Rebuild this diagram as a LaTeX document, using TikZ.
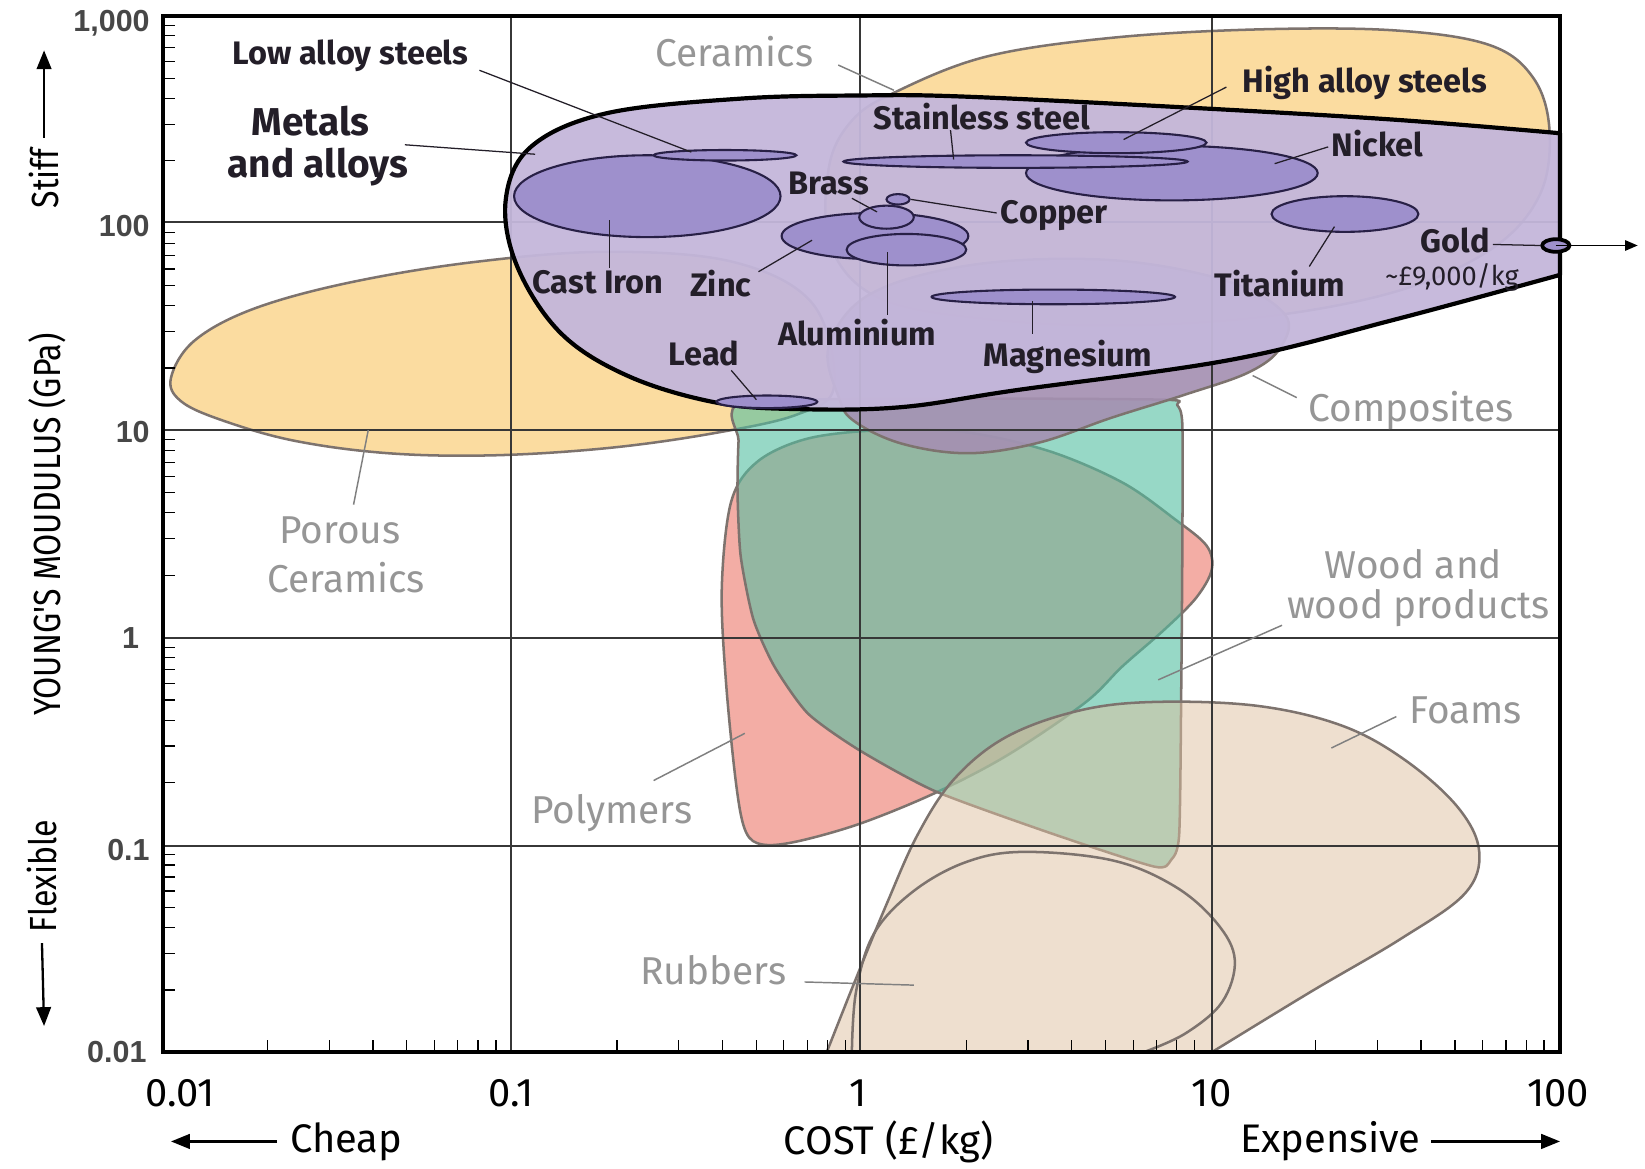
\documentclass[tikz,border=0pt]{standalone}
\usepackage{fontspec}
\setmainfont{Fira Sans}
\newfontfamily\condfont{Fira Sans}[FakeStretch=0.85]
\newfontfamily\arialfont{Liberation Sans}
\usetikzlibrary{arrows.meta}
\definecolor{orangefill}{RGB}{251,220,160}
\definecolor{shapeedge}{RGB}{125,115,110}
\definecolor{metalfill}{RGB}{196,183,219}
\definecolor{elfill}{RGB}{158,144,204}
\definecolor{eldraw}{RGB}{40,32,70}
\definecolor{compfill}{RGB}{165,145,178}
\definecolor{polyfill}{RGB}{243,173,165}
\definecolor{woodfill}{RGB}{83,190,160}
\definecolor{foamfill}{RGB}{223,193,161}
\definecolor{gridcol}{RGB}{55,55,55}
\definecolor{greytext}{RGB}{150,150,150}
\definecolor{darktext}{RGB}{35,30,40}
\tikzset{
  region/.style={draw=shapeedge, line width=1.2pt, line join=round},
  gridln/.style={draw=gridcol, line width=0.9pt},
  frameln/.style={draw=black, line width=1.8pt},
  tickln/.style={draw=black, line width=0.6pt},
  elem/.style={fill=elfill, draw=eldraw, line width=1pt},
  dlbl/.style={font=\fontsize{15.5}{18}\selectfont\bfseries, text=darktext, inner sep=0pt},
  biglbl/.style={font=\fontsize{18.5}{22}\selectfont\bfseries, text=darktext, inner sep=0pt},
  glbl/.style={font=\fontsize{18.5}{22}\selectfont, text=greytext, inner sep=0pt},
  pricelbl/.style={font=\fontsize{13}{15}\selectfont, text=darktext, inner sep=0pt},
  dlead/.style={draw=darktext, line width=0.6pt},
  glead/.style={draw=greytext!85!black, line width=0.7pt},
  ylbl/.style={font=\arialfont\bfseries\fontsize{14.5}{16}\selectfont, text=black!72, inner sep=0pt, anchor=east},
  xlbl/.style={font=\fontsize{19}{22}\selectfont, text=black, inner sep=0pt},
  axlbl/.style={font=\fontsize{19}{22}\selectfont, text=black, inner sep=0pt},
  rotlbl/.style={font=\condfont\fontsize{18}{20}\selectfont, text=black, inner sep=0pt, rotate=90},
  axarrow/.style={draw=black, line width=1.1pt, -{Triangle[length=9pt,width=7pt]}},
}
\begin{document}
\begin{tikzpicture}[x=0.5pt,y=-0.5pt]
\useasboundingbox (0,0) rectangle (1568,1114);
\fill[white] (0,0) rectangle (1568,1114);

% Porous ceramics
\draw[region, fill=orangefill] plot[smooth cycle, tension=0.6] coordinates {
 (163,360) (185,325) (240,295) (330,270) (450,250) (580,240) (700,250) (775,290)
 (795,368) (760,395) (680,413) (580,427) (470,434) (370,432) (280,420) (210,400) (172,382)};
% Ceramics
\draw[region, fill=orangefill] plot[smooth cycle, tension=0.6] coordinates {
 (853,88) (940,54) (1060,36) (1200,28) (1330,29) (1420,43) (1462,75) (1477,125) (1468,185)
 (1425,235) (1340,275) (1220,300) (1080,310) (950,305) (840,285) (792,235) (790,160) (812,115)};
% Polymers
\draw[region, fill=polyfill] plot[smooth cycle, tension=0.55] coordinates {
 (697,478) (722,440) (770,418) (840,410) (920,412) (1000,430) (1070,460) (1120,495) (1150,520)
 (1155,543) (1140,570) (1110,600) (1070,635) (1034,670) (960,720) (891,756) (820,785) (760,802)
 (727,805) (711,793) (702,750) (692,650) (688,560)};
% Wood
\draw[region, fill=woodfill, fill opacity=0.6] plot[smooth cycle, tension=0.4] coordinates {
 (708,384) (900,380) (1110,381) (1122,386) (1127,405) (1127,520) (1126,650) (1124,795) (1116,820) (1100,826)
 (1001,794) (891,754) (819,715) (770,680) (738,635) (718,590) (706,530) (703,470) (704,420)};
% Composites
\draw[region, fill=compfill, fill opacity=0.92] plot[smooth cycle, tension=0.6] coordinates {
 (800,380) (790,330) (830,280) (930,252) (1060,248) (1170,268) (1225,300) (1220,332)
 (1190,355) (1130,376) (1060,398) (990,422) (923,432) (860,423) (815,402)};
% Foams
\draw[region, fill=foamfill, fill opacity=0.5] plot[smooth, tension=0.6] coordinates {
 (788,1003) (815,935) (845,862) (875,795) (910,742) (960,702) (1030,677) (1103,669) (1200,673)
 (1280,692) (1340,725) (1390,770) (1410,812) (1396,852) (1335,895) (1250,945) (1155,1003)} -- cycle;
% Rubbers
\draw[region] plot[smooth, tension=0.6] coordinates {
 (812,1003) (816,945) (833,890) (870,850) (920,822) (975,812) (1060,820) (1120,845)
 (1160,880) (1177,915) (1165,955) (1130,985) (1090,1003)};

% grid
\foreach \gx in {487,820,1155} \draw[gridln] (\gx,15) -- (\gx,1003);
\foreach \gy in {212,410,608,806} \draw[gridln] (155,\gy) -- (1487,\gy);

% Metals and alloys
\draw[draw=black, line width=2pt, fill=metalfill, fill opacity=0.95, line join=round]
 plot[smooth, tension=0.6] coordinates {
 (1487,262) (1328,305) (1173,343) (968,372) (860,388) (763,390) (684,384) (600,359) (535,318)
 (493,254) (482,191) (506,140) (578,108) (706,94) (820,91) (917,92) (1122,102) (1328,114) (1487,127)} -- cycle;

% element ellipses
\draw[elem] (617,187) ellipse [x radius=127, y radius=39];
\draw[elem] (691,148) ellipse [x radius=68, y radius=5];
\draw[elem] (834,225) ellipse [x radius=89, y radius=22];
\draw[elem] (864,238) ellipse [x radius=57, y radius=15];
\draw[elem] (845,207) ellipse [x radius=26, y radius=11];
\draw[elem] (856,190) ellipse [x radius=11, y radius=5];
\draw[elem] (1117,165) ellipse [x radius=139, y radius=26];
\draw[elem] (1064,136) ellipse [x radius=86, y radius=10];
\draw[elem] (968,154) ellipse [x radius=164, y radius=6];
\draw[elem] (1004,283) ellipse [x radius=116, y radius=7];
\draw[elem] (1282,204) ellipse [x radius=70, y radius=17];
\draw[elem] (731,383) ellipse [x radius=48, y radius=6];

% frame and ticks
\foreach \d in {0,...,3} {\foreach \k in {2,...,9} {
  \pgfmathsetmacro{\tx}{155+333*(\d+log10(\k))}
  \draw[tickln] (\tx,1003) -- (\tx,991);}}
\foreach \d in {0,...,4} {\foreach \k in {2,...,9} {
  \pgfmathsetmacro{\ty}{1003-197.6*(\d+log10(\k))}
  \draw[tickln] (155,\ty) -- (167,\ty);}}
\draw[frameln] (155,15) rectangle (1487,1003);

% Gold
\draw[fill=elfill, draw=black, line width=1.8pt] (1483,234) ellipse [x radius=13, y radius=6];
\coordinate (goldC) at (1483,234);
\coordinate (goldR) at (1561,234);
\draw[line width=0.6pt, -{Triangle[length=6pt,width=5pt]}] (goldC) -- (goldR);

% dark labels
\node[dlbl] (lowalloy) at (334,53) {Low alloy steels};
\node[biglbl] (metals1) at (296,115) {Metals};
\node[biglbl] (metals2) at (303,159) {and alloys};
\node[dlbl] (stainless) at (936,111) {Stainless steel};
\node[dlbl] (highalloy) at (1301,79) {High alloy steels};
\node[dlbl] (nickel) at (1313,137) {Nickel};
\node[dlbl] (brass) at (790,175) {Brass};
\node[dlbl] (copper) at (1005,205) {Copper};
\node[dlbl] (castiron) at (570,269) {Cast Iron};
\node[dlbl] (zinc) at (687,270) {Zinc};
\node[dlbl] (alu) at (817,317) {Aluminium};
\node[dlbl] (lead) at (671,337) {Lead};
\node[dlbl] (magnesium) at (1018,340) {Magnesium};
\node[dlbl] (titanium) at (1220,270) {Titanium};
\node[dlbl] (gold) at (1387,229) {Gold};
\node[pricelbl] (price) at (1384,264) {\textasciitilde£9,000/kg};

% grey labels
\node[glbl] (ceramics) at (700,49) {Ceramics};
\node[glbl] (composites) at (1345,391) {Composites};
\node[glbl] (porous1) at (324,506) {Porous};
\node[glbl] (porous2) at (330,551) {Ceramics};
\node[glbl] (wood1) at (1347,538) {Wood and};
\node[glbl] (wood2) at (1352,580) {wood products};
\node[glbl] (foams) at (1397,677) {Foams};
\node[glbl] (polymers) at (583,775) {Polymers};
\node[glbl] (rubbers) at (680,925) {Rubbers};

% leader coordinates
\coordinate (lowS) at (457,67);   \coordinate (lowE) at (659,145);
\coordinate (metS) at (386,138);  \coordinate (metE) at (510,147);
\coordinate (cerS) at (799,62);   \coordinate (cerE) at (852,86);
\coordinate (staS) at (906,124);  \coordinate (staE) at (909,152);
\coordinate (hiS) at (1169,83);   \coordinate (hiE) at (1071,133);
\coordinate (niS) at (1266,140);  \coordinate (niE) at (1215,156);
\coordinate (brS) at (812,189);   \coordinate (brE) at (836,202);
\coordinate (cuS) at (950,203);   \coordinate (cuE) at (868,190);
\coordinate (ciS) at (581,255);   \coordinate (ciE) at (581,210);
\coordinate (znS) at (723,259);   \coordinate (znE) at (774,229);
\coordinate (alS) at (846,300);   \coordinate (alE) at (846,240);
\coordinate (pbS) at (697,353);   \coordinate (pbE) at (721,381);
\coordinate (mgS) at (984,318);   \coordinate (mgE) at (984,287);
\coordinate (tiS) at (1248,254);  \coordinate (tiE) at (1272,216);
\coordinate (auS) at (1423,233);  \coordinate (auE) at (1468,234);
\coordinate (coS) at (1236,379);  \coordinate (coE) at (1194,358);
\coordinate (poS) at (337,481);   \coordinate (poE) at (351,410);
\coordinate (woS) at (1222,596);  \coordinate (woE) at (1104,648);
\coordinate (foS) at (1331,683);  \coordinate (foE) at (1269,713);
\coordinate (pyS) at (623,744);   \coordinate (pyE) at (710,699);
\coordinate (ruS) at (767,936);   \coordinate (ruE) at (871,939);

\foreach \a/\b in {lowS/lowE, metS/metE, staS/staE, hiS/hiE, niS/niE, brS/brE, cuS/cuE,
  ciS/ciE, znS/znE, alS/alE, pbS/pbE, mgS/mgE, tiS/tiE, auS/auE}
  \draw[dlead] (\a) -- (\b);
\foreach \a/\b in {cerS/cerE, coS/coE, poS/poE, woS/woE, foS/foE, pyS/pyE, ruS/ruE}
  \draw[glead] (\a) -- (\b);

% axis tick labels
\node[ylbl] (y1000) at (143,22) {1,000};
\node[ylbl] (y100) at (143,215) {100};
\node[ylbl] (y10) at (143,412) {10};
\node[ylbl] (y1) at (133,608) {1};
\node[ylbl] (y01) at (143,810) {0.1};
\node[ylbl] (y001) at (140,1003) {0.01};

\node[xlbl] (x001) at (172,1042) {0.01};
\node[xlbl] (x01) at (487,1042) {0.1};
\node[xlbl] (x1) at (818,1042) {1};
\node[xlbl] (x10) at (1155,1042) {10};
\node[xlbl] (x100) at (1485,1042) {100};

\node[axlbl] (cheap) at (330,1088) {Cheap};
\node[axlbl] (cost) at (847,1088) {COST (£/kg)};
\node[axlbl] (expensive) at (1268,1088) {Expensive};
\coordinate (cheapA) at (163,1088);
\coordinate (expA) at (1487,1088);
\draw[axarrow] ([xshift=-6pt]cheap.west) -- (cheapA);
\draw[axarrow] ([xshift=5pt]expensive.east) -- (expA);

\node[rotlbl] (young) at (45,500) {YOUNG'S MOUDULUS (GPa)};
\node[rotlbl] (stiff) at (42,170) {Stiff};
\node[rotlbl] (flexible) at (40,835) {Flexible};
\coordinate (stiffA) at (42,48);
\coordinate (flexA) at (42,978);
\draw[axarrow] ([yshift=5pt]stiff.east) -- (stiffA);
\draw[axarrow] ([yshift=-5pt]flexible.west) -- (flexA);
\end{tikzpicture}
\end{document}
